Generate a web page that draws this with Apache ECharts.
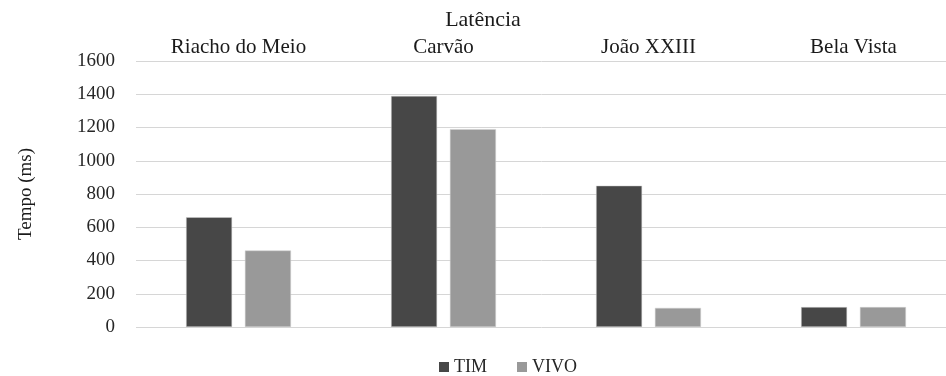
<!DOCTYPE html>
<html>
<head>
<meta charset="utf-8">
<script src="https://cdn.jsdelivr.net/npm/echarts@6/dist/echarts.min.js"></script>
<style>
  html, body { margin: 0; padding: 0; background: #fff; }
  #chart { width: 946px; height: 376px; }
</style>
</head>
<body>
<div id="chart"></div>
<script>
const categories = ["Riacho do Meio", "Carvão", "João XXIII", "Bela Vista"];
const timValues = [660, 1390, 850, 120];
const vivoValues = [460, 1190, 115, 120];

const chart = echarts.init(document.getElementById("chart"));
const font = "'Liberation Serif', 'Times New Roman', serif";

const option = {
  backgroundColor: "#fff",
  textStyle: { fontFamily: font },
  title: {
    text: "Latência",
    left: 478,
    textAlign: "center",
    top: 4,
    textStyle: { fontFamily: font, fontSize: 22, fontWeight: "normal", color: "#1a1a1a" },
  },
  legend: {
    top: 353,
    left: 434,
    itemWidth: 10,
    itemHeight: 10,
    itemGap: 30,
    icon: "rect",
    itemStyle: { borderWidth: 0 },
    textStyle: { fontFamily: font, fontSize: 18, color: "#262626" },
    data: ["TIM", "VIVO"],
  },
  grid: {
    left: 136,
    width: 820,
    top: 61,
    bottom: 49,
    outerBoundsMode: "none",
  },
  xAxis: {
    type: "category",
    position: "top",
    data: categories,
    axisLine: { show: false },
    axisTick: { show: false },
    axisLabel: { fontFamily: font, fontSize: 21, color: "#1a1a1a", margin: 3 },
  },
  yAxis: {
    type: "value",
    min: 0,
    max: 1600,
    interval: 200,
    name: "Tempo (ms)",
    nameLocation: "middle",
    nameGap: 100,
    nameTextStyle: { fontFamily: font, fontSize: 19, color: "#1a1a1a" },
    axisLine: { show: false },
    axisTick: { show: false },
    axisLabel: {
      fontFamily: font,
      fontSize: 19,
      color: "#262626",
      margin: 21,
      formatter: (v) => String(v),
    },
    splitLine: { lineStyle: { color: "#d6d6d6", width: 1 } },
  },
  series: [
    {
      name: "TIM",
      type: "bar",
      data: timValues,
      barWidth: 46,
      barGap: "28%",
      itemStyle: { color: "#474747", borderColor: "#d0d0d0", borderWidth: 0.5 },
    },
    {
      name: "VIVO",
      type: "bar",
      data: vivoValues,
      barWidth: 46,
      itemStyle: { color: "#999999", borderColor: "#d0d0d0", borderWidth: 0.5 },
    },
  ],
};

chart.setOption(option);
window.addEventListener("resize", () => chart.resize());
</script>
</body>
</html>
